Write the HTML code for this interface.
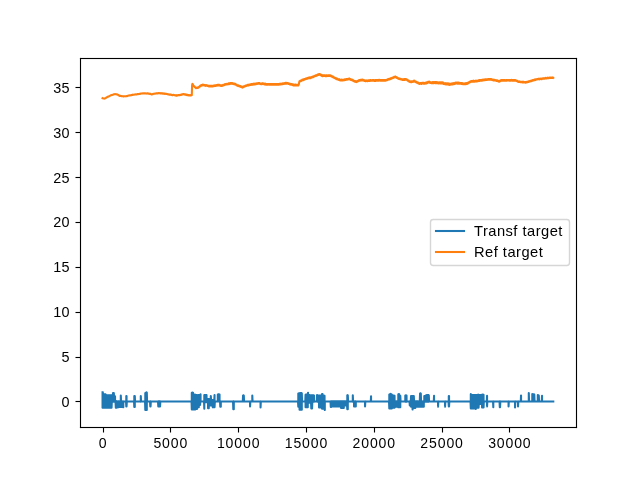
<!DOCTYPE html>
<html lang="en">
<head>
<meta charset="utf-8">
<title>Transf target vs Ref target</title>
<style>
html,body{margin:0;padding:0;background:#fff;}
body{width:640px;height:480px;overflow:hidden;font-family:"Liberation Sans",sans-serif;}
svg{display:block;will-change:transform;}
text{font-family:"Liberation Sans",sans-serif;fill:#000;}
.yt text{font-size:14px;letter-spacing:.3px;text-anchor:end;}
.xt text{font-size:14.5px;letter-spacing:.9px;text-anchor:middle;}
.lg text{font-size:14px;letter-spacing:.45px;}
.sp{stroke:#000;stroke-width:1.111;fill:none;}
.ln{fill:none;stroke-width:2.083;stroke-linejoin:round;stroke-linecap:square;}
</style>
</head>
<body>
<svg width="640" height="480" viewBox="0 0 640 480">
<rect width="640" height="480" fill="#fff"/>
<g class="ln">
<polyline stroke="#1f77b4" points="102.55,392.35 102.55,407.8 102.8,407.8 102.8,392.35 103.05,394.5 103.05,407.8 103.3,407.8 103.3,394.5 103.55,394.5 103.55,407.8 103.8,407.8 103.8,394.5 104.05,394.5 104.05,407.8 104.3,407.8 104.3,394.5 104.55,394.5 104.55,407.8 104.8,407.8 104.8,394.5 105.05,394.5 105.05,407.8 105.3,407.8 105.3,394.5 105.55,394.5 105.55,407.8 105.8,407.8 105.8,394.5 106.05,395.44 106.05,407.8 106.3,407.8 106.3,395.44 106.55,395.44 106.55,407.8 106.8,407.8 106.8,395.44 107.05,395.44 107.05,407.8 107.3,407.8 107.3,395.44 107.55,395.44 107.55,407.8 107.8,407.8 107.8,395.44 108.05,395.44 108.05,407.8 108.3,407.8 108.3,395.44 108.55,395.44 108.55,407.8 108.8,407.8 108.8,395.44 109.05,395.44 109.05,407.8 109.3,407.8 109.3,395.44 109.55,395.44 109.55,407.8 109.8,407.8 109.8,395.44 110.05,395.44 110.05,407.8 110.3,407.8 110.3,395.44 110.55,395.44 110.55,407.8 110.8,407.8 110.8,395.44 111.05,395.44 111.05,407.8 111.3,407.8 111.3,395.44 111.55,395.44 111.55,407.8 111.8,401.61 111.8,395.44 112.05,395.44 112.05,401.61 112.3,401.61 112.3,395.44 112.55,395.44 112.55,401.61 112.8,401.61 112.8,395.44 113.05,393.1 113.05,401.61 113.3,401.61 113.3,393.1 113.55,393.1 113.55,401.61 113.8,401.61 113.8,393.1 114.05,396.38 114.05,401.61 114.3,401.61 114.3,396.38 114.55,396.38 114.55,401.61 114.8,401.61 114.8,396.38 115.05,396.38 115.05,401.61 115.3,401.61 115.3,401.25 115.55,401.25 115.55,401.61 115.8,407.8 115.8,401.25 116.05,401.25 116.05,407.8 116.3,407.8 116.3,401.25 116.55,401.25 116.55,407.8 116.8,407.8 116.8,401.25 117.05,401.43 117.05,407.23 117.3,407.23 117.3,401.43 117.55,401.43 117.55,407.23 117.8,407.23 117.8,401.43 118.05,401.43 118.05,407.23 118.3,407.23 118.3,401.43 118.55,401.43 118.55,407.23 118.8,407.05 118.8,401.43 119.05,401.43 119.05,407.05 119.3,407.05 119.3,401.43 119.55,401.43 119.55,407.05 119.8,407.05 119.8,401.43 120.05,401.43 120.05,407.05 120.3,407.05 120.3,401.43 120.55,401.43 120.55,407.05 120.8,407.05 120.8,395.53 121.05,401.43 121.05,407.05 121.3,407.05 121.3,401.43 121.55,401.43 121.55,407.05 121.8,407.05 121.8,401.43 122.05,401.43 122.05,407.05 122.3,407.05 122.3,401.43 122.55,401.43 122.55,407.05 122.8,407.05 122.8,401.43 123.05,401.43 123.05,407.23 123.3,407.23 123.3,401.43 126.05,401.43 126.3,406.48 126.3,396.1 126.55,396.1 126.55,406.48 126.8,401.43 134.05,401.43 134.3,406.95 134.3,396.1 134.55,396.1 134.55,406.95 134.8,406.95 134.8,396.1 135.05,401.43 140.55,401.43 140.8,401.61 140.8,396.1 141.05,401.43 145.05,401.43 145.3,410.05 145.3,393 145.55,393 145.55,410.05 145.8,410.05 145.8,393 146.05,392.63 146.05,410.05 146.3,410.05 146.3,392.63 146.55,392.63 146.55,410.05 146.8,410.05 146.8,392.63 147.05,401.43 150.05,401.43 150.3,406.39 150.3,401.43 150.55,401.43 150.55,406.39 150.8,401.43 158.05,401.43 158.3,406.39 158.3,401.43 158.55,401.43 158.55,406.39 158.8,406.39 158.8,401.43 159.05,401.43 159.05,406.39 159.3,406.39 159.3,401.43 159.55,401.43 159.55,406.39 159.8,406.39 159.8,401.43 160.05,401.43 160.05,406.39 160.3,401.43 191.55,401.43 191.8,409.48 191.8,392.72 192.05,392.72 192.05,409.48 192.3,409.48 192.3,392.72 192.55,392.72 192.55,409.48 192.8,409.48 192.8,392.72 193.05,392.72 193.05,409.48 193.3,409.48 193.3,394.69 193.55,394.69 193.55,409.48 193.8,409.48 193.8,394.69 194.05,394.69 194.05,409.48 194.3,409.48 194.3,394.69 194.55,394.69 194.55,409.48 194.8,409.48 194.8,394.69 195.05,394.69 195.05,409.48 195.3,409.48 195.3,394.69 195.55,394.97 195.55,408.92 195.8,408.92 195.8,394.97 196.05,394.97 196.05,408.92 196.3,408.92 196.3,394.97 196.55,394.97 196.55,408.92 196.8,408.92 196.8,394.97 197.05,394.97 197.05,408.92 197.3,407.23 197.3,395.25 197.55,395.25 197.55,407.23 197.8,407.23 197.8,395.25 198.05,395.25 198.05,407.23 198.3,407.23 198.3,395.25 198.55,395.25 198.55,407.23 198.8,407.23 198.8,395.25 199.05,395.25 199.05,404.98 199.3,404.98 199.3,395.25 199.55,395.25 199.55,404.98 199.8,404.98 199.8,395.25 200.05,395.25 200.05,404.98 200.3,401.43 200.55,394.41 200.55,401.43 204.05,401.43 204.3,408.64 204.3,395.16 204.55,395.16 204.55,402.17 204.8,402.17 204.8,395.16 205.05,395.16 205.05,402.17 205.3,402.17 205.3,395.16 205.55,395.16 205.55,402.17 205.8,402.17 205.8,395.16 206.05,395.16 206.05,402.17 206.3,402.17 206.3,395.16 206.55,395.16 206.55,402.17 206.8,402.17 206.8,399.19 207.05,399.19 207.05,402.17 207.3,402.17 207.3,399.19 207.55,399.19 207.55,402.17 207.8,402.17 207.8,399.19 208.05,399.19 208.05,408.17 208.3,408.17 208.3,399.19 208.55,399.19 208.55,408.17 208.8,408.17 208.8,399.19 209.05,399.19 209.05,405.55 209.3,405.55 209.3,399.19 209.55,399.19 209.55,405.55 209.8,405.55 209.8,399.19 210.05,399.19 210.05,405.55 210.3,405.55 210.3,399.19 210.55,399.19 210.55,405.55 210.8,405.55 210.8,396.1 211.05,400.31 211.05,405.55 211.3,405.55 211.3,400.31 211.55,400.31 211.55,405.55 211.8,405.55 211.8,400.31 212.05,400.31 212.05,405.55 212.3,405.55 212.3,400.31 212.55,400.31 212.55,405.55 212.8,407.23 212.8,400.31 213.05,400.31 213.05,407.23 213.3,407.23 213.3,400.31 213.55,400.31 213.55,407.23 213.8,407.23 213.8,400.31 214.05,400.31 214.05,407.23 214.3,407.23 214.3,400.31 214.55,394.97 214.55,407.23 214.8,401.61 214.8,401.43 215.05,401.43 215.05,401.61 215.3,401.61 215.3,401.43 215.55,401.43 215.55,401.61 215.8,401.43 217.8,401.43 217.8,394.5 218.05,394.5 218.05,401.43 218.3,401.43 218.3,394.5 218.55,394.5 218.55,401.43 218.8,401.43 218.8,394.5 219.05,394.5 219.05,401.43 219.3,401.43 219.3,394.5 219.55,394.5 219.55,401.43 220.05,401.43 220.3,406.67 220.3,401.43 220.55,401.43 220.55,406.67 220.8,406.67 220.8,401.43 233.05,401.43 233.3,409.3 233.3,401.43 233.55,401.43 233.55,409.3 233.8,409.3 233.8,401.43 242.8,401.43 243.05,395.44 243.05,401.43 243.3,401.43 243.3,395.44 243.55,395.44 243.55,401.43 243.8,401.43 243.8,395.44 244.05,401.43 250.05,401.43 250.05,406.48 250.3,401.43 252.3,401.43 252.3,395.44 252.55,401.43 260.55,401.43 260.55,407.42 260.8,401.43 298.05,401.43 298.3,406.67 298.3,393.56 298.55,393.56 298.55,406.67 298.8,406.67 298.8,393.56 299.05,393.56 299.05,406.67 299.3,406.67 299.3,393.56 299.55,393.38 299.55,409.76 299.8,409.76 299.8,393.38 300.05,393.38 300.05,409.76 300.3,409.76 300.3,393.38 300.55,393.38 300.55,409.76 300.8,409.76 300.8,393.38 301.05,393.38 301.05,409.76 301.3,409.76 301.3,393.38 301.55,393.38 301.55,409.76 301.8,409.76 301.8,393.38 302.05,401.43 305.3,401.43 305.55,394.69 305.55,407.23 305.8,407.23 305.8,394.69 306.05,394.69 306.05,407.23 306.3,407.23 306.3,394.69 306.55,394.69 306.55,407.23 306.8,407.23 306.8,394.69 307.05,394.69 307.05,407.23 307.3,407.23 307.3,394.69 307.55,394.69 307.55,407.23 307.8,407.23 307.8,394.69 308.05,392.72 308.05,402.73 308.3,402.73 308.3,394.69 308.55,394.69 308.55,402.73 308.8,402.73 308.8,394.69 309.05,394.69 309.05,402.73 309.3,402.73 309.3,395.53 309.55,395.53 309.55,402.73 309.8,402.73 309.8,395.53 310.05,395.53 310.05,402.73 310.3,402.73 310.3,395.53 310.55,395.53 310.55,402.73 310.8,402.73 310.8,395.53 311.05,395.53 311.05,402.73 311.3,408.36 311.3,395.53 311.55,395.53 311.55,408.36 311.8,408.36 311.8,395.53 312.05,395.53 312.05,408.36 312.3,401.61 312.3,395.53 312.55,395.53 312.55,401.61 312.8,401.61 312.8,395.53 313.05,395.53 313.05,401.61 313.3,401.61 313.3,395.53 313.55,395.53 313.55,401.61 313.8,401.61 313.8,395.53 314.05,395.53 314.05,401.61 314.3,401.43 316.8,401.43 317.05,394.97 317.05,401.43 317.3,401.61 317.3,395.81 317.55,395.81 317.55,401.61 317.8,401.61 317.8,395.81 318.05,395.81 318.05,401.61 318.3,401.61 318.3,395.81 318.55,395.81 318.55,401.61 318.8,401.61 318.8,395.81 319.05,395.81 319.05,407.51 319.3,407.51 319.3,395.81 319.55,395.81 319.55,407.51 319.8,407.51 319.8,395.81 320.05,395.81 320.05,407.51 320.3,407.51 320.3,395.81 320.55,395.81 320.55,407.51 320.8,407.51 320.8,395.81 321.05,395.81 321.05,407.51 321.3,407.51 321.3,395.81 321.55,395.81 321.55,407.51 321.8,407.51 321.8,395.81 322.05,394.13 322.05,408.64 322.3,408.64 322.3,394.13 322.55,394.13 322.55,408.64 322.8,408.64 322.8,395.81 323.05,395.81 323.05,408.64 323.3,408.64 323.3,395.81 323.55,395.81 323.55,408.64 323.8,408.64 323.8,395.81 324.05,395.81 324.05,408.64 324.3,408.64 324.3,395.81 324.55,395.81 324.55,408.64 324.8,410.05 324.8,401.43 330.55,401.43 330.8,406.95 330.8,401.43 331.05,401.43 331.05,406.95 331.3,406.48 331.3,401.43 331.55,401.43 331.55,406.48 331.8,406.48 331.8,401.43 332.05,401.43 332.05,406.48 332.3,406.48 332.3,401.43 332.55,401.43 332.55,406.48 332.8,406.48 332.8,401.43 333.05,401.43 333.05,406.48 333.3,406.48 333.3,401.43 333.55,401.43 333.55,406.48 333.8,406.48 333.8,401.43 334.05,401.43 334.05,406.48 334.3,406.48 334.3,401.43 334.55,401.43 334.55,406.48 334.8,406.48 334.8,401.43 335.05,401.43 335.05,406.48 335.3,406.48 335.3,401.43 335.55,401.43 335.55,406.48 335.8,406.48 335.8,401.43 336.05,401.43 336.05,406.48 336.3,406.48 336.3,401.43 336.55,401.43 336.55,406.48 336.8,406.48 336.8,401.43 337.05,401.43 337.05,406.48 337.3,406.48 337.3,401.43 337.55,401.43 337.55,406.48 337.8,406.48 337.8,401.43 338.05,401.43 338.05,406.48 338.3,406.48 338.3,401.43 338.55,401.43 338.55,406.48 338.8,406.48 338.8,401.43 339.05,401.43 339.05,406.48 339.3,406.48 339.3,401.43 339.55,401.43 339.55,406.48 339.8,406.48 339.8,401.43 340.05,401.43 340.05,406.48 340.3,406.48 340.3,401.43 340.55,401.43 340.55,406.48 340.8,406.48 340.8,401.43 341.05,401.43 341.05,407.98 341.3,407.98 341.3,401.43 341.55,401.43 341.55,407.98 341.8,407.98 341.8,401.43 342.05,401.43 342.05,407.98 342.3,407.98 342.3,401.43 342.55,401.43 342.55,407.98 342.8,407.98 342.8,401.43 343.05,401.43 343.05,407.98 343.3,407.98 343.3,401.43 343.55,401.43 343.55,407.98 343.8,407.98 343.8,401.43 344.05,401.43 344.05,405.55 344.3,405.55 344.3,401.43 344.55,401.43 344.55,405.55 344.8,405.55 344.8,401.43 345.05,401.43 345.05,405.55 345.3,405.55 345.3,401.43 345.55,401.43 345.55,405.55 345.8,405.55 345.8,401.43 346.05,401.43 346.05,405.55 346.3,405.55 346.3,401.43 346.55,401.43 346.55,405.55 346.8,405.55 346.8,401.43 347.05,401.43 347.05,405.55 347.3,409.2 347.3,395.25 347.55,395.25 347.55,409.2 347.8,409.2 347.8,395.25 348.05,401.43 352.55,401.43 352.8,401.61 352.8,395.25 353.05,401.43 353.05,401.61 353.3,401.61 353.3,401.43 353.55,401.43 353.55,401.61 353.8,401.61 353.8,401.43 354.05,401.43 354.05,406.39 354.3,406.39 354.3,401.43 354.55,401.43 354.55,406.39 354.8,406.39 354.8,401.43 355.05,401.43 355.05,406.39 355.3,406.39 355.3,401.43 355.55,401.43 355.55,406.39 355.8,406.39 355.8,401.43 365.05,401.43 365.05,406.48 365.3,401.43 370.8,401.43 371.05,396.19 371.05,401.43 389.05,401.43 389.3,408.55 389.3,394.5 389.55,394.5 389.55,408.55 389.8,408.55 389.8,394.5 390.05,394.5 390.05,408.55 390.3,408.55 390.3,394.5 390.55,393.85 390.55,408.55 390.8,408.55 390.8,394.5 391.05,394.5 391.05,408.55 391.3,408.55 391.3,394.5 391.55,394.5 391.55,408.55 391.8,408.55 391.8,394.5 392.05,395.81 392.05,407.8 392.3,407.8 392.3,395.81 392.55,395.81 392.55,407.8 392.8,407.8 392.8,395.81 393.05,395.81 393.05,407.8 393.3,407.8 393.3,395.81 393.55,395.81 393.55,407.8 393.8,407.8 393.8,395.81 394.05,395.81 394.05,407.8 394.3,407.8 394.3,395.81 394.55,395.81 394.55,407.8 394.8,406.67 394.8,401.43 395.05,401.43 395.05,406.67 395.3,406.67 395.3,401.43 395.55,401.43 395.55,406.67 395.8,406.67 395.8,401.43 396.05,401.43 396.05,406.67 396.3,406.67 396.3,401.43 396.55,401.43 396.55,406.67 396.8,406.67 396.8,401.43 397.05,401.43 397.05,406.67 397.3,406.67 397.3,401.43 397.55,401.43 397.55,406.67 397.8,406.67 397.8,401.43 398.05,401.43 398.05,406.67 398.3,407.23 398.3,394.41 398.55,394.41 398.55,407.23 398.8,407.23 398.8,394.41 399.05,394.41 399.05,407.23 399.3,407.23 399.3,394.41 399.55,395.81 399.55,407.23 399.8,407.23 399.8,395.81 400.05,395.81 400.05,407.23 400.3,407.23 400.3,395.81 400.55,401.43 405.05,401.43 405.3,401.61 405.3,395.53 405.55,395.53 405.55,401.61 405.8,401.61 405.8,395.53 406.05,395.53 406.05,401.61 406.3,401.61 406.3,395.53 406.55,395.53 406.55,401.61 406.8,401.43 409.55,401.43 409.8,405.55 409.8,401.43 410.05,401.43 410.05,405.55 410.3,405.55 410.3,401.43 410.55,401.43 410.55,405.55 410.8,405.55 410.8,401.43 411.05,396.1 411.05,406.67 411.3,406.67 411.3,396.1 411.55,396.1 411.55,406.67 411.8,406.67 411.8,396.1 412.05,396.1 412.05,406.67 412.3,406.67 412.3,396.1 412.55,396.1 412.55,409.48 412.8,408.08 412.8,396.1 413.05,396.1 413.05,408.08 413.3,408.08 413.3,396.1 413.55,396.1 413.55,408.08 413.8,408.08 413.8,396.1 414.05,401.43 414.05,408.08 414.3,408.08 414.3,401.43 414.55,401.43 414.55,408.08 414.8,408.08 414.8,401.43 415.05,401.43 415.05,408.08 415.3,408.08 415.3,401.43 415.55,401.43 415.55,406.67 415.8,406.67 415.8,401.43 416.05,401.43 416.05,406.67 416.3,406.67 416.3,401.43 416.55,401.43 416.55,406.67 416.8,406.67 416.8,401.43 417.05,401.43 417.05,406.67 417.3,406.67 417.3,401.43 417.55,401.43 417.55,406.67 417.8,406.67 417.8,401.43 418.05,401.43 418.05,406.67 418.3,406.67 418.3,401.43 418.55,401.43 418.55,406.67 418.8,406.67 418.8,401.43 419.05,401.43 419.05,406.67 419.3,406.67 419.3,401.43 419.55,401.43 419.55,406.67 419.8,406.67 419.8,401.43 420.05,393.56 420.05,406.67 420.3,406.67 420.3,393.56 420.55,393.56 420.55,406.67 420.8,406.67 420.8,393.56 421.05,401.43 421.05,406.67 421.3,406.67 421.3,401.43 421.55,401.43 421.55,406.67 421.8,406.67 421.8,401.43 422.05,401.43 422.05,406.67 422.3,406.67 422.3,401.43 422.55,401.43 422.55,406.67 422.8,406.67 422.8,401.43 423.05,401.43 423.05,406.67 423.3,406.67 423.3,401.43 423.55,401.43 423.55,406.67 423.8,406.67 423.8,401.43 424.05,401.43 424.05,401.61 424.3,401.61 424.3,396.1 424.55,396.1 424.55,401.61 424.8,401.61 424.8,396.1 425.05,396.1 425.05,401.61 425.3,401.61 425.3,396.1 425.55,396.1 425.55,401.61 425.8,401.61 425.8,396.1 426.05,395.25 426.05,401.61 426.3,401.61 426.3,395.25 426.55,395.25 426.55,401.61 426.8,401.61 426.8,395.25 427.05,395.25 427.05,401.61 427.3,401.61 427.3,395.25 427.55,395.25 427.55,401.61 427.8,401.61 427.8,395.25 428.05,395.25 428.05,401.61 428.3,401.61 428.3,395.25 428.55,395.25 428.55,401.61 428.8,401.61 428.8,395.25 429.05,401.43 433.8,401.43 434.05,395.81 434.05,401.43 438.05,401.43 438.05,406.67 438.3,401.43 445.05,401.43 445.05,406.67 445.3,401.43 448.55,401.43 448.8,406.39 448.8,396.1 449.05,396.1 449.05,406.39 449.3,401.43 470.55,401.43 470.8,408.36 470.8,394.13 471.05,395.06 471.05,408.36 471.3,408.36 471.3,395.06 471.55,395.06 471.55,408.36 471.8,408.36 471.8,395.06 472.05,395.06 472.05,408.36 472.3,408.36 472.3,395.06 472.55,395.06 472.55,408.36 472.8,408.36 472.8,395.06 473.05,395.06 473.05,408.55 473.3,408.55 473.3,395.06 473.55,395.06 473.55,408.55 473.8,408.55 473.8,395.06 474.05,395.06 474.05,408.55 474.3,408.55 474.3,395.06 474.55,395.06 474.55,408.55 474.8,408.55 474.8,395.06 475.05,395.06 475.05,408.55 475.3,408.55 475.3,395.06 475.55,395.06 475.55,408.55 475.8,408.92 475.8,395.06 476.05,395.06 476.05,407.8 476.3,407.8 476.3,395.06 476.55,395.06 476.55,407.8 476.8,407.8 476.8,395.06 477.05,395.06 477.05,407.8 477.3,407.8 477.3,395.06 477.55,395.06 477.55,407.8 477.8,407.8 477.8,394.69 478.05,394.69 478.05,407.8 478.3,407.8 478.3,394.69 478.55,394.69 478.55,407.8 478.8,403.86 478.8,394.97 479.05,394.97 479.05,403.86 479.3,403.86 479.3,394.97 479.55,394.97 479.55,403.86 479.8,403.86 479.8,394.97 480.05,394.97 480.05,403.86 480.3,403.86 480.3,394.97 480.55,394.97 480.55,403.86 480.8,403.86 480.8,394.97 481.05,394.97 481.05,403.86 481.3,403.86 481.3,394.97 481.55,394.97 481.55,403.86 481.8,403.86 481.8,394.97 482.05,394.69 482.05,407.51 482.3,407.51 482.3,394.69 482.55,394.69 482.55,407.51 482.8,407.51 482.8,394.69 483.05,394.69 483.05,407.51 483.3,407.51 483.3,394.69 483.55,394.69 483.55,407.51 483.8,401.43 486.8,401.43 487.05,395.81 487.05,406.39 487.3,401.43 493.05,401.43 493.3,407.23 493.3,401.43 499.55,401.43 499.8,407.23 499.8,401.43 500.05,401.43 500.05,407.23 500.3,401.43 508.55,401.43 508.55,406.48 508.8,401.43 515.04,401.43 515.04,407.42 515.29,401.43 518.04,401.43 518.04,406.48 518.29,401.43 520.79,401.43 521.04,395.44 521.04,401.43 528.79,401.43 528.79,393.1 529.04,401.43 532.29,401.43 532.29,393.94 532.54,394.5 532.54,401.43 532.79,401.43 532.79,394.5 533.04,394.5 533.04,401.43 533.29,401.43 533.29,394.5 533.54,394.5 533.54,401.43 533.79,401.43 533.79,394.5 534.04,394.5 534.04,401.43 534.29,401.43 534.29,394.5 534.54,401.43 537.79,401.43 537.79,394.97 538.04,401.43 538.29,401.43 538.29,395.44 538.54,395.44 538.54,401.43 538.79,401.43 538.79,395.44 539.04,401.43 541.79,401.43 542.04,395.91 542.04,401.43 553.29,401.43"/>
<polyline stroke="#ff7f0e" points="102.55,98.21 102.8,98.32 103.05,98.34 103.3,98.45 103.55,98.44 103.8,98.55 104.05,98.5 104.3,98.62 104.55,98.57 104.8,98.5 105.05,98.25 105.3,98.17 105.55,97.97 105.8,97.9 106.05,97.73 106.3,97.66 106.55,97.46 106.8,97.38 107.05,97.13 107.3,97.07 107.55,96.86 107.8,96.81 108.05,96.7 108.3,96.64 108.55,96.45 108.8,96.39 109.05,96.3 109.3,96.25 109.55,96.05 109.8,96 110.05,95.65 110.3,95.6 110.55,95.41 110.8,95.39 111.05,95.22 111.3,95.2 111.55,95.04 111.8,95.02 112.05,94.94 112.3,94.93 112.55,94.76 112.8,94.75 113.05,94.58 113.3,94.55 113.55,94.4 113.8,94.37 114.05,94.2 114.3,94.2 114.55,94.15 114.8,94.24 115.05,94.1 115.3,94.21 115.55,94.14 115.8,94.25 116.05,94.26 116.3,94.36 116.55,94.3 116.8,94.4 117.05,94.4 117.3,94.53 117.55,94.61 117.8,94.86 118.05,94.78 118.3,95.03 118.55,95.11 118.8,95.36 119.05,95.52 119.3,95.77 119.55,95.83 119.8,95.96 120.05,95.8 120.3,95.92 120.55,95.88 120.8,96.01 121.05,96.02 121.3,96.14 121.55,96.1 121.8,96.22 122.05,96.14 122.3,96.25 122.55,96.22 122.8,96.28 123.05,96.32 123.3,96.39 123.55,96.3 123.8,96.37 124.05,96.2 124.3,96.27 124.55,96.18 124.8,96.25 125.05,96.28 125.3,96.35 125.55,96.26 125.8,96.33 126.05,96.22 126.3,96.31 126.55,96.14 126.8,96.19 127.05,96 127.3,96.03 127.55,95.88 127.8,95.91 128.05,95.57 128.3,95.6 128.55,95.45 128.8,95.48 129.05,95.49 129.3,95.52 129.55,95.37 129.8,95.4 130.05,95.29 130.3,95.35 130.55,95.21 130.8,95.27 131.05,95.14 131.3,95.21 131.55,95.06 131.8,95.13 132.05,94.84 132.3,94.92 132.55,94.76 132.8,94.84 133.05,94.78 133.3,94.83 133.55,94.7 133.8,94.75 134.05,94.58 134.3,94.64 134.55,94.51 134.8,94.56 135.05,94.44 135.3,94.52 135.55,94.36 135.8,94.44 136.05,94.45 136.3,94.51 136.55,94.38 136.8,94.44 137.05,94.15 137.3,94.22 137.55,94.07 137.8,94.14 138.05,94.06 138.3,94.1 138.55,93.97 138.8,94.01 139.05,93.94 139.3,94.01 139.55,93.85 139.8,93.92 140.05,93.65 140.3,93.7 140.55,93.56 140.8,93.62 141.05,93.51 141.3,93.57 141.55,93.42 141.8,93.48 142.05,93.36 142.3,93.45 142.55,93.36 142.8,93.45 143.05,93.35 143.3,93.46 143.55,93.35 143.8,93.46 144.05,93.24 144.3,93.37 144.55,93.24 144.8,93.37 145.05,93.34 145.3,93.47 145.55,93.34 145.8,93.47 146.05,93.45 146.3,93.56 146.55,93.45 146.8,93.56 147.05,93.21 147.3,93.34 147.55,93.21 147.8,93.34 148.05,93.42 148.3,93.59 148.55,93.54 148.8,93.71 149.05,93.59 149.3,93.76 149.55,93.71 149.8,93.87 150.05,93.75 150.3,93.93 150.55,93.87 150.8,94.04 151.05,94.2 151.3,94.36 151.55,94.31 151.8,94.45 152.05,94.2 152.3,94.26 152.55,94.1 152.8,94.16 153.05,93.83 153.3,93.91 153.55,93.73 153.8,93.81 154.05,93.73 154.3,93.82 154.55,93.63 154.8,93.72 155.05,93.59 155.3,93.64 155.55,93.49 155.8,93.57 156.05,93.36 156.3,93.47 156.55,93.3 156.8,93.42 157.05,93.31 157.3,93.44 157.55,93.26 157.8,93.38 158.05,93.16 158.3,93.26 158.55,93.11 158.8,93.21 159.05,93.12 159.3,93.21 159.55,93.13 159.8,93.27 160.05,93.23 160.3,93.4 160.55,93.28 160.8,93.45 161.05,93.18 161.3,93.33 161.55,93.23 161.8,93.38 162.05,93.34 162.3,93.52 162.55,93.39 162.8,93.57 163.05,93.4 163.3,93.57 163.55,93.47 163.8,93.64 164.05,93.57 164.3,93.76 164.55,93.64 164.8,93.83 165.05,93.61 165.3,93.78 165.55,93.68 165.8,93.84 166.05,93.79 166.3,93.97 166.55,93.85 166.8,94.03 167.05,93.95 167.3,94.13 167.55,94.02 167.8,94.22 168.05,94.2 168.3,94.41 168.55,94.3 168.8,94.51 169.05,94.43 169.3,94.62 169.55,94.53 169.8,94.72 170.05,94.41 170.3,94.65 170.55,94.51 170.8,94.75 171.05,94.67 171.3,94.87 171.55,94.77 171.8,94.97 172.05,94.98 172.3,95.15 172.55,95.03 172.8,95.2 173.05,94.86 173.3,95.03 173.55,94.91 173.8,95.07 174.05,95.08 174.3,95.23 174.55,95.12 174.8,95.28 175.05,95.18 175.3,95.37 175.55,95.23 175.8,95.41 176.05,95.37 176.3,95.58 176.55,95.4 176.8,95.56 177.05,95.3 177.3,95.46 177.55,95.25 177.8,95.41 178.05,95.14 178.3,95.26 178.55,95.08 178.8,95.2 179.05,95.03 179.3,95.14 179.55,94.97 179.8,95.09 180.05,94.92 180.3,95.05 180.55,94.81 180.8,94.9 181.05,94.78 181.3,94.91 181.55,94.63 181.8,94.76 182.05,94.34 182.3,94.44 182.55,94.19 182.8,94.29 183.05,94.03 183.3,94.19 183.55,94.04 183.8,94.31 184.05,94.22 184.3,94.48 184.55,94.34 184.8,94.6 185.05,94.42 185.3,94.68 185.55,94.54 185.8,94.8 186.05,94.65 186.3,94.92 186.55,94.77 186.8,95.04 187.05,94.81 187.3,95.06 187.55,94.88 187.8,95.12 188.05,95.05 188.3,95.26 188.55,95.12 188.8,95.33 189.05,95.15 189.3,95.36 189.55,95.22 189.8,95.42 190.05,95.39 190.3,95.54 190.55,95.31 190.8,95.46 191.05,95.17 191.3,95.35 191.55,95.08 191.8,95.26 192.05,86.01 192.3,84.15 192.55,83.97 192.8,84.57 193.05,84.79 193.3,85.46 193.55,85.59 193.8,86.23 194.05,86.07 194.3,86.62 194.55,86.52 194.8,87.06 195.05,87.1 195.3,87.6 195.55,87.54 195.8,88.04 196.05,87.84 196.3,88.09 196.55,87.74 196.8,87.99 197.05,87.67 197.3,87.95 197.55,87.57 197.8,87.85 198.05,87.3 198.3,87.62 198.55,87.17 198.8,87.31 199.05,86.75 199.3,87.05 199.55,86.29 199.8,86.59 200.05,85.77 200.3,86.04 200.55,85.58 200.8,85.86 201.05,85.35 201.3,85.66 201.55,85.17 201.8,85.48 202.05,85.13 202.3,85.43 202.55,84.94 202.8,85.25 203.05,84.7 203.3,85.2 203.55,84.77 203.8,85.27 204.05,84.97 204.3,85.37 204.55,85.03 204.8,85.44 205.05,85.22 205.3,85.72 205.55,85.28 205.8,85.79 206.05,85.14 206.3,85.6 206.55,85.26 206.8,85.72 207.05,85.38 207.3,85.87 207.55,85.5 207.8,85.98 208.05,85.62 208.3,86.23 208.55,85.74 208.8,86.34 209.05,85.93 209.3,86.35 209.55,85.93 209.8,86.35 210.05,85.83 210.3,86.34 210.55,85.83 210.8,86.34 211.05,85.85 211.3,86.32 211.55,85.85 211.8,86.32 212.05,85.91 212.3,86.36 212.55,85.86 212.8,86.3 213.05,85.74 213.3,86.27 213.55,85.68 213.8,86.21 214.05,85.57 214.3,85.96 214.55,85.51 214.8,85.9 215.05,85.44 215.3,85.98 215.55,85.34 215.8,85.88 216.05,85.25 216.3,85.79 216.55,85.15 216.8,85.69 217.05,84.99 217.3,85.48 217.55,84.89 217.8,85.38 218.05,84.96 218.3,85.31 218.55,84.86 218.8,85.23 219.05,84.73 219.3,85.34 219.55,84.86 219.8,85.46 220.05,85.14 220.3,85.73 220.55,85.26 220.8,85.85 221.05,85.3 221.3,85.94 221.55,85.43 221.8,86.03 222.05,85.42 222.3,85.77 222.55,85.23 222.8,85.58 223.05,84.9 223.3,85.42 223.55,84.7 223.8,85.23 224.05,84.56 224.3,85.07 224.55,84.37 224.8,84.89 225.05,84.17 225.3,84.55 225.55,84.08 225.8,84.46 226.05,84.03 226.3,84.46 226.55,83.94 226.8,84.36 227.05,84 227.3,84.36 227.55,83.9 227.8,84.26 228.05,83.51 228.3,84.07 228.55,83.42 228.8,83.98 229.05,83.56 229.3,84.13 229.55,83.46 229.8,84.04 230.05,83.15 230.3,83.75 230.55,83.06 230.8,83.66 231.05,83.22 231.3,83.73 231.55,83.14 231.8,83.74 232.05,83.1 232.3,83.71 232.55,83.19 232.8,83.81 233.05,83.41 233.3,84.03 233.55,83.5 233.8,84.12 234.05,83.55 234.3,84.15 234.55,83.66 234.8,84.33 235.05,83.73 235.3,84.5 235.55,83.98 235.8,84.75 236.05,84.49 236.3,85.18 236.55,84.74 236.8,85.43 237.05,85.04 237.3,85.66 237.55,85.28 237.8,85.87 238.05,85.32 238.3,85.96 238.55,85.51 238.8,86.14 239.05,85.73 239.3,86.25 239.55,85.92 239.8,86.43 240.05,86.02 240.3,86.71 240.55,86.2 240.8,86.9 241.05,86.34 241.3,87.03 241.55,86.54 241.8,87.23 242.05,86.93 242.3,87.56 242.55,87.01 242.8,87.43 243.05,86.6 243.3,87.13 243.55,86.38 243.8,86.91 244.05,86.21 244.3,86.72 244.55,85.99 244.8,86.5 245.05,85.76 245.3,86.2 245.55,85.6 245.8,86.03 246.05,85.48 246.3,85.84 246.55,85.31 246.8,85.68 247.05,85.08 247.3,85.47 247.55,84.92 247.8,85.3 248.05,84.95 248.3,85.39 248.55,84.86 248.8,85.29 249.05,84.64 249.3,85.1 249.55,84.54 249.8,85.01 250.05,84.52 250.3,85.02 250.55,84.43 250.8,84.93 251.05,84.19 251.3,84.83 251.55,84.1 251.8,84.74 252.05,84.06 252.3,84.54 252.55,84 252.8,84.49 253.05,83.9 253.3,84.55 253.55,83.84 253.8,84.49 254.05,83.8 254.3,84.39 254.55,83.75 254.8,84.34 255.05,83.71 255.3,84.36 255.55,83.66 255.8,84.28 256.05,83.59 256.3,84.09 256.55,83.49 256.8,83.99 257.05,83.44 257.3,83.84 257.55,83.34 257.8,83.74 258.05,83.05 258.3,83.66 258.55,82.95 258.8,83.56 259.05,82.97 259.3,83.46 259.55,83.03 259.8,83.62 260.05,83.4 260.3,83.97 260.55,83.57 260.8,84.14 261.05,83.46 261.3,84.21 261.55,83.6 261.8,84.2 262.05,83.45 262.3,84.02 262.55,83.32 262.8,83.89 263.05,83.39 263.3,83.96 263.55,83.52 263.8,84.09 264.05,83.73 264.3,84.32 264.55,83.86 264.8,84.45 265.05,83.68 265.3,84.45 265.55,83.81 265.8,84.58 266.05,84.12 266.3,84.64 266.55,84.12 266.8,84.64 267.05,84.03 267.3,84.67 267.55,84.03 267.8,84.67 268.05,84.02 268.3,84.5 268.55,84.02 268.8,84.5 269.05,84.12 269.3,84.79 269.55,84.12 269.8,84.79 270.05,84.16 270.3,84.64 270.55,84.16 270.8,84.64 271.05,84.11 271.3,84.7 271.55,84.11 271.8,84.7 272.05,84.11 272.3,84.57 272.55,84.11 272.8,84.57 273.05,84.14 273.3,84.74 273.55,84.14 273.8,84.74 274.05,84.02 274.3,84.7 274.55,84.02 274.8,84.7 275.05,84.15 275.3,84.62 275.55,84.15 275.8,84.62 276.05,84.05 276.3,84.57 276.55,84.05 276.8,84.57 277.05,83.97 277.3,84.63 277.55,83.97 277.8,84.63 278.05,84.19 278.3,84.78 278.55,84.14 278.8,84.73 279.05,83.98 279.3,84.49 279.55,83.93 279.8,84.44 280.05,83.9 280.3,84.49 280.55,83.84 280.8,84.44 281.05,83.79 281.3,84.33 281.55,83.73 281.8,84.27 282.05,83.56 282.3,84.2 282.55,83.46 282.8,84.1 283.05,83.44 283.3,83.91 283.55,83.34 283.8,83.81 284.05,83.26 284.3,83.87 284.55,83.16 284.8,83.77 285.05,83.01 285.3,83.58 285.55,82.92 285.8,83.54 286.05,82.91 286.3,83.56 286.55,82.91 286.8,83.56 287.05,82.98 287.3,83.53 287.55,82.98 287.8,83.54 288.05,83.12 288.3,83.85 288.55,83.29 288.8,84.02 289.05,83.42 289.3,84.14 289.55,83.58 289.8,84.31 290.05,83.77 290.3,84.4 290.55,83.92 290.8,84.55 291.05,84.04 291.3,84.57 291.55,84.19 291.8,84.72 292.05,84.15 292.3,84.93 292.55,84.3 292.8,85.08 293.05,84.66 293.3,85.32 293.55,84.69 293.8,85.35 294.05,84.79 294.3,85.32 294.55,84.83 294.8,85.35 295.05,84.7 295.3,85.37 295.55,84.73 295.8,85.4 296.05,84.88 296.3,85.41 296.55,84.88 296.8,85.41 297.05,84.87 297.3,85.45 297.55,84.87 297.8,85.45 298.05,84.83 298.3,85.51 298.55,84.83 298.8,84.61 299.05,82.83 299.3,82.24 299.55,81.12 299.8,81.58 300.05,80.81 300.3,81.23 300.55,80.59 300.8,81.01 301.05,80.53 301.3,80.95 301.55,80.31 301.8,80.73 302.05,79.9 302.3,80.26 302.55,79.69 302.8,80.06 303.05,79.63 303.3,80.04 303.55,79.43 303.8,79.84 304.05,79.19 304.3,79.61 304.55,78.98 304.8,79.4 305.05,78.82 305.3,79.21 305.55,78.61 305.8,79.01 306.05,78.5 306.3,78.87 306.55,78.31 306.8,78.73 307.05,78.13 307.3,78.67 307.55,78.05 307.8,78.58 308.05,77.78 308.3,78.24 308.55,77.69 308.8,78.15 309.05,77.49 309.3,78.09 309.55,77.4 309.8,78 310.05,77.49 310.3,78.14 310.55,77.4 310.8,78.05 311.05,77.24 311.3,77.66 311.55,77.04 311.8,77.46 312.05,76.88 312.3,77.38 312.55,76.68 312.8,77.18 313.05,76.56 313.3,77.04 313.55,76.36 313.8,76.84 314.05,76.02 314.3,76.39 314.55,75.82 314.8,76.18 315.05,75.56 315.3,75.94 315.55,75.34 315.8,75.72 316.05,75.22 316.3,75.8 316.55,75 316.8,75.58 317.05,74.82 317.3,75.29 317.55,74.6 317.8,75.08 318.05,74.37 318.3,74.97 318.55,74.23 318.8,74.83 319.05,74.22 319.3,74.62 319.55,74.08 319.8,74.66 320.05,74.21 320.3,74.97 320.55,74.52 320.8,75.29 321.05,74.75 321.3,75.59 321.55,75.06 321.8,75.9 322.05,75.39 322.3,76.08 322.55,75.39 322.8,76.08 323.05,75.45 323.3,75.9 323.55,75.45 323.8,75.9 324.05,75.32 324.3,75.91 324.55,75.32 324.8,75.91 325.05,75.52 325.3,76.07 325.55,75.52 325.8,76.07 326.05,75.42 326.3,76.07 326.55,75.42 326.8,76.07 327.05,75.55 327.3,76.02 327.55,75.55 327.8,76.02 328.05,75.41 328.3,75.93 328.55,75.41 328.8,75.93 329.05,75.36 329.3,76.03 329.55,75.36 329.8,76.03 330.05,75.38 330.3,75.96 330.55,75.4 330.8,76.11 331.05,75.67 331.3,76.36 331.55,75.92 331.8,76.61 332.05,76.18 332.3,77.02 332.55,76.43 332.8,77.27 333.05,76.69 333.3,77.35 333.55,76.94 333.8,77.6 334.05,77.32 334.3,77.9 334.55,77.56 334.8,78.15 335.05,77.76 335.3,78.44 335.55,78.01 335.8,78.69 336.05,78.42 336.3,79.04 336.55,78.67 336.8,79.28 337.05,78.65 337.3,79.24 337.55,78.84 337.8,79.39 338.05,79.11 338.3,79.79 338.55,79.27 338.8,79.95 339.05,79.29 339.3,80.07 339.55,79.44 339.8,80.23 340.05,79.65 340.3,80.34 340.55,79.81 340.8,80.49 341.05,79.82 341.3,80.41 341.55,79.76 341.8,80.35 342.05,79.82 342.3,80.33 342.55,79.76 342.8,80.27 343.05,79.77 343.3,80.34 343.55,79.71 343.8,80.29 344.05,79.56 344.3,80.16 344.55,79.45 344.8,80.05 345.05,79.38 345.3,79.93 345.55,79.27 345.8,79.82 346.05,79.1 346.3,79.71 346.55,78.99 346.8,79.6 347.05,79.04 347.3,79.6 347.55,78.96 347.8,79.52 348.05,78.83 348.3,79.3 348.55,78.76 348.8,79.22 349.05,78.45 349.3,79.05 349.55,78.56 349.8,79.29 350.05,78.94 350.3,79.65 350.55,79.19 350.8,79.89 351.05,79.37 351.3,79.99 351.55,79.61 351.8,80.2 352.05,79.63 352.3,80.34 352.55,79.81 352.8,80.52 353.05,80.19 353.3,80.95 353.55,80.37 353.8,81.13 354.05,80.8 354.3,81.37 354.55,80.98 354.8,81.57 355.05,81.03 355.3,81.74 355.55,81.25 355.8,81.95 356.05,81.33 356.3,82.09 356.55,81.4 356.8,81.9 357.05,81.17 357.3,81.59 357.55,80.88 357.8,81.3 358.05,80.78 358.3,81.16 358.55,80.49 358.8,80.87 359.05,80.13 359.3,80.66 359.55,80.08 359.8,80.6 360.05,79.99 360.3,80.56 360.55,79.94 360.8,80.51 361.05,79.86 361.3,80.47 361.55,79.81 361.8,80.42 362.05,79.78 362.3,80.35 362.55,79.72 362.8,80.32 363.05,79.91 363.3,80.47 363.55,80.06 363.8,80.62 364.05,80.1 364.3,80.84 364.55,80.25 364.8,80.99 365.05,80.36 365.3,81.13 365.55,80.51 365.8,81.26 366.05,80.55 366.3,81.01 366.55,80.51 366.8,80.97 367.05,80.58 367.3,81.08 367.55,80.54 367.8,81.04 368.05,80.41 368.3,80.89 368.55,80.37 368.8,80.85 369.05,80.38 369.3,81.04 369.55,80.35 369.8,81.01 370.05,80.13 370.3,80.81 370.55,80.1 370.8,80.79 371.05,80.29 371.3,80.74 371.55,80.27 371.8,80.72 372.05,80.22 372.3,80.75 372.55,80.19 372.8,80.72 373.05,80.09 373.3,80.58 373.55,80.06 373.8,80.55 374.05,80.25 374.3,80.83 374.55,80.25 374.8,80.83 375.05,80.17 375.3,80.87 375.55,80.17 375.8,80.87 376.05,80.13 376.3,80.6 376.55,80.13 376.8,80.6 377.05,80.21 377.3,80.71 377.55,80.21 377.8,80.71 378.05,80.14 378.3,80.72 378.55,80.14 378.8,80.72 379.05,79.9 379.3,80.49 379.55,79.9 379.8,80.49 380.05,80.09 380.3,80.75 380.55,80.09 380.8,80.75 381.05,80.11 381.3,80.68 381.55,80.11 381.8,80.67 382.05,80.15 382.3,80.63 382.55,80.14 382.8,80.62 383.05,80.01 383.3,80.55 383.55,80 383.8,80.54 384.05,79.96 384.3,80.67 384.55,79.95 384.8,80.66 385.05,79.98 385.3,80.63 385.55,79.97 385.8,80.62 386.05,80.13 386.3,80.5 386.55,79.91 386.8,80.27 387.05,79.51 387.3,80.07 387.55,79.29 387.8,79.85 388.05,79.15 388.3,79.61 388.55,79 388.8,79.46 389.05,78.91 389.3,79.5 389.55,78.77 389.8,79.35 390.05,78.56 390.3,78.94 390.55,78.41 390.8,78.79 391.05,78.16 391.3,78.77 391.55,78 391.8,78.57 392.05,77.75 392.3,78.12 392.55,77.51 392.8,77.88 393.05,77.5 393.3,77.95 393.55,77.26 393.8,77.71 394.05,76.94 394.3,77.45 394.55,76.7 394.8,77.21 395.05,76.48 395.3,76.99 395.55,76.56 395.8,77.29 396.05,76.88 396.3,77.53 396.55,77.18 396.8,77.83 397.05,77.44 397.3,78.08 397.55,77.74 397.8,78.38 398.05,78.03 398.3,78.69 398.55,78.24 398.8,78.84 399.05,78.38 399.3,78.92 399.55,78.53 399.8,79.07 400.05,78.66 400.3,79.24 400.55,78.8 400.8,79.38 401.05,78.98 401.3,79.54 401.55,79.13 401.8,79.69 402.05,79.33 402.3,79.92 402.55,79.33 402.8,79.92 403.05,79.26 403.3,79.83 403.55,79.26 403.8,79.83 404.05,79.18 404.3,79.81 404.55,79.18 404.8,79.81 405.05,79.17 405.3,79.73 405.55,79.17 405.8,79.73 406.05,79.2 406.3,79.7 406.55,79.23 406.8,79.89 407.05,79.7 407.3,80.45 407.55,80.03 407.8,80.78 408.05,80.21 408.3,81.1 408.55,80.54 408.8,81.42 409.05,80.86 409.3,81.56 409.55,81.11 409.8,81.81 410.05,81.29 410.3,82.04 410.55,81.54 410.8,82.29 411.05,81.62 411.3,82.27 411.55,81.44 411.8,82.09 412.05,81.39 412.3,81.94 412.55,81.21 412.8,81.76 413.05,81.02 413.3,81.73 413.55,80.84 413.8,81.55 414.05,80.58 414.3,81.52 414.55,80.83 414.8,81.77 415.05,81.18 415.3,81.93 415.55,81.42 415.8,82.18 416.05,81.59 416.3,82.49 416.55,81.84 416.8,82.74 417.05,82.19 417.3,82.95 417.55,82.44 417.8,83.2 418.05,82.57 418.3,83.29 418.55,82.82 418.8,83.54 419.05,83.13 419.3,83.93 419.55,83.2 419.8,83.87 420.05,83.06 420.3,83.8 420.55,83.01 420.8,83.75 421.05,83.04 421.3,83.9 421.55,82.98 421.8,83.84 422.05,82.93 422.3,83.53 422.55,82.87 422.8,83.47 423.05,82.83 423.3,83.66 423.55,82.83 423.8,83.66 424.05,82.95 424.3,83.7 424.55,82.95 424.8,83.7 425.05,82.86 425.3,83.49 425.55,82.86 425.8,83.49 426.05,82.66 426.3,83.49 426.55,82.43 426.8,83.26 427.05,82.31 427.3,83.05 427.55,82.08 427.8,82.82 428.05,81.93 428.3,82.47 428.55,81.73 428.8,82.45 429.05,81.64 429.3,82.65 429.55,81.76 429.8,82.77 430.05,82.15 430.3,82.87 430.55,82.28 430.8,83 431.05,82.53 431.3,83.24 431.55,82.58 431.8,83.24 432.05,82.35 432.3,83.11 432.55,82.35 432.8,83.11 433.05,82.24 433.3,83.23 433.55,82.24 433.8,83.23 434.05,82.34 434.3,82.99 434.55,82.34 434.8,82.99 435.05,82.28 435.3,83.29 435.55,82.3 435.8,83.31 436.05,82.25 436.3,83.15 436.55,82.27 436.8,83.17 437.05,82.4 437.3,83.1 437.55,82.42 437.8,83.12 438.05,82.53 438.3,83.43 438.55,82.55 438.8,83.45 439.05,82.4 439.3,83.25 439.55,82.4 439.8,83.25 440.05,82.53 440.3,83.44 440.55,82.53 440.8,83.44 441.05,82.54 441.3,83.51 441.55,82.54 441.8,83.51 442.05,82.45 442.3,83.39 442.55,82.47 442.8,83.49 443.05,82.6 443.3,83.74 443.55,82.76 443.8,83.91 444.05,83.21 444.3,84.02 444.55,83.38 444.8,84.18 445.05,83.24 445.3,84.3 445.55,83.4 445.8,84.4 446.05,83.49 446.3,84.32 446.55,83.53 446.8,84.36 447.05,83.44 447.3,84.41 447.55,83.47 447.8,84.45 448.05,83.61 448.3,84.62 448.55,83.65 448.8,84.65 449.05,83.78 449.3,84.82 449.55,83.82 449.8,84.86 450.05,83.95 450.3,84.66 450.55,83.89 450.8,84.6 451.05,83.65 451.3,84.43 451.55,83.59 451.8,84.37 452.05,83.45 452.3,84.41 452.55,83.39 452.8,84.35 453.05,83.36 453.3,84.27 453.55,83.22 453.8,84.14 454.05,83.26 454.3,83.96 454.55,83.13 454.8,83.83 455.05,82.85 455.3,83.76 455.55,82.72 455.8,83.62 456.05,82.74 456.3,83.52 456.55,82.77 456.8,83.54 457.05,82.81 457.3,83.57 457.55,82.84 457.8,83.6 458.05,82.75 458.3,83.65 458.55,82.78 458.8,83.67 459.05,82.88 459.3,83.67 459.55,82.91 459.8,83.69 460.05,82.96 460.3,83.74 460.55,82.99 460.8,83.79 461.05,83.05 461.3,83.82 461.55,83.13 461.8,83.9 462.05,83.24 462.3,84.02 462.55,83.31 462.8,84.09 463.05,83.54 463.3,84.22 463.55,83.62 463.8,84.29 464.05,83.59 464.3,84.18 464.55,83.55 464.8,84.13 465.05,83.35 465.3,84.17 465.55,83.3 465.8,84.13 466.05,83.16 466.3,83.91 466.55,83.12 466.8,83.87 467.05,83.21 467.3,83.89 467.55,82.96 467.8,83.64 468.05,82.5 468.3,83.22 468.55,82.25 468.8,82.97 469.05,82.14 469.3,82.66 469.55,81.89 469.8,82.41 470.05,81.81 470.3,82.21 470.55,81.34 470.8,81.79 471.05,81.13 471.3,81.78 471.55,81.13 471.8,81.78 472.05,81.06 472.3,81.72 472.55,81.06 472.8,81.72 473.05,80.86 473.3,81.66 473.55,80.86 473.8,81.66 474.05,81.04 474.3,81.71 474.55,81.03 474.8,81.65 475.05,80.92 475.3,81.53 475.55,80.84 475.8,81.44 476.05,80.8 476.3,81.5 476.55,80.71 476.8,81.42 477.05,80.83 477.3,81.38 477.55,80.74 477.8,81.29 478.05,80.5 478.3,81.03 478.55,80.41 478.8,80.94 479.05,80.16 479.3,80.88 479.55,80.1 479.8,80.82 480.05,80.01 480.3,80.74 480.55,79.95 480.8,80.69 481.05,80.06 481.3,80.65 481.55,80.01 481.8,80.59 482.05,79.89 482.3,80.57 482.55,79.84 482.8,80.52 483.05,79.8 483.3,80.29 483.55,79.74 483.8,80.22 484.05,79.71 484.3,80.29 484.55,79.62 484.8,80.21 485.05,79.42 485.3,80.04 485.55,79.33 485.8,79.96 486.05,79.48 486.3,80.01 486.55,79.4 486.8,79.92 487.05,79.3 487.3,79.85 487.55,79.22 487.8,79.76 488.05,79.11 488.3,79.76 488.55,79.11 488.8,79.76 489.05,78.99 489.3,79.63 489.55,78.99 489.8,79.63 490.05,79.14 490.3,79.65 490.55,79.14 490.8,79.65 491.05,79.02 491.3,79.76 491.55,79.17 491.8,79.91 492.05,79.39 492.3,79.95 492.55,79.54 492.8,80.1 493.05,79.58 493.3,80.37 493.55,79.73 493.8,80.52 494.05,79.9 494.3,80.43 494.55,79.96 494.8,80.49 495.05,80 495.3,80.54 495.55,80.06 495.8,80.6 496.05,80.31 496.3,80.82 496.55,80.37 496.8,80.88 497.05,80.26 497.3,81.03 497.55,80.44 497.8,81.21 498.05,80.74 498.3,81.33 498.55,80.92 498.8,81.5 499.05,81.12 499.3,81.75 499.55,81.06 499.8,81.52 500.05,80.58 500.3,81.13 500.55,80.36 500.8,80.9 501.05,80.22 501.3,80.75 501.55,80.02 501.8,80.66 502.05,80.21 502.3,80.62 502.55,80.21 502.8,80.62 503.05,80.17 503.3,80.69 503.55,80.17 503.8,80.69 504.05,80.1 504.3,80.64 504.55,80.1 504.8,80.64 505.05,80.21 505.3,80.76 505.55,80.21 505.8,80.76 506.05,80.19 506.3,80.64 506.55,80.18 506.8,80.63 507.05,80.06 507.3,80.5 507.55,80.05 507.8,80.5 508.05,80.11 508.3,80.47 508.55,80.1 508.8,80.46 509.05,80.23 509.3,80.59 509.55,80.22 509.8,80.59 510.05,80.13 510.3,80.6 510.55,80.12 510.8,80.59 511.05,79.98 511.3,80.34 511.55,79.97 511.8,80.33 512.04,80.21 512.29,80.6 512.54,80.21 512.79,80.59 513.04,80.13 513.29,80.53 513.54,80.12 513.79,80.53 514.04,80.2 514.29,80.55 514.54,80.2 514.79,80.54 515.04,80.06 515.29,80.39 515.54,80.08 515.79,80.54 516.04,80.25 516.29,80.88 516.54,80.51 516.79,81.14 517.04,80.75 517.29,81.28 517.54,81.01 517.79,81.52 518.04,81.48 518.29,81.88 518.54,81.58 518.79,81.97 519.04,81.41 519.29,81.89 519.54,81.5 519.79,81.99 520.04,81.8 520.29,82.15 520.54,81.9 520.79,82.25 521.04,81.79 521.29,82.18 521.54,81.88 521.79,82.24 522.04,81.91 522.29,82.39 522.54,81.94 522.79,82.42 523.04,81.83 523.29,82.29 523.54,81.85 523.79,82.32 524.04,82.01 524.29,82.43 524.54,82.04 524.79,82.45 525.04,82.22 525.29,82.54 525.54,82.25 525.79,82.57 526.04,82.07 526.29,82.35 526.54,81.94 526.79,82.22 527.04,82.03 527.29,82.25 527.54,81.9 527.79,82.13 528.04,81.7 528.29,81.96 528.54,81.57 528.79,81.83 529.04,81.35 529.29,81.57 529.54,81.23 529.79,81.44 530.04,81.12 530.29,81.34 530.54,80.97 530.79,81.19 531.04,80.78 531.29,81.08 531.54,80.62 531.79,80.93 532.04,80.55 532.29,80.76 532.54,80.39 532.79,80.61 533.04,80.2 533.29,80.42 533.54,80.05 533.79,80.28 534.04,79.84 534.29,80.19 534.54,79.71 534.79,80.06 535.04,79.67 535.29,79.93 535.54,79.54 535.79,79.8 536.04,79.36 536.29,79.61 536.54,79.23 536.79,79.48 537.04,79.1 537.29,79.32 537.54,78.98 537.79,79.19 538.04,78.9 538.29,79.27 538.54,78.87 538.79,79.25 539.04,78.93 539.29,79.28 539.54,78.91 539.79,79.26 540.04,78.7 540.29,79.03 540.54,78.67 540.79,79 541.04,78.76 541.29,79.1 541.54,78.74 541.79,79.07 542.04,78.66 542.29,78.87 542.54,78.56 542.79,78.77 543.04,78.42 543.29,78.66 543.54,78.32 543.79,78.56 544.04,78.34 544.29,78.63 544.54,78.24 544.79,78.53 545.04,78.01 545.29,78.34 545.54,77.91 545.79,78.28 546.04,78.05 546.29,78.4 546.54,78.02 546.79,78.36 547.04,77.82 547.29,78.13 547.54,77.78 547.79,78.1 548.04,77.86 548.29,78.15 548.54,77.82 548.79,78.12 549.04,77.78 549.29,78 549.54,77.74 549.79,77.96 550.04,77.61 550.29,77.95 550.54,77.58 550.79,77.92 551.04,77.71 551.29,77.94 551.54,77.68 551.79,77.91 552.04,77.59 552.29,77.82 552.54,77.56 552.79,77.79 553.04,77.55 553.29,77.86"/>
</g>
<g fill="#000">
<rect x="79.9445" y="57.9445" width="1.111" height="370.111"/>
<rect x="575.9445" y="57.9445" width="1.111" height="370.111"/>
<rect x="79.9445" y="57.9445" width="497.111" height="1.111"/>
<rect x="79.9445" y="426.9445" width="497.111" height="1.111"/>
<rect x="102.9445" y="427.5" width="1.111" height="5"/>
<rect x="169.9445" y="427.5" width="1.111" height="5"/>
<rect x="237.9445" y="427.5" width="1.111" height="5"/>
<rect x="305.9445" y="427.5" width="1.111" height="5"/>
<rect x="373.9445" y="427.5" width="1.111" height="5"/>
<rect x="441.9445" y="427.5" width="1.111" height="5"/>
<rect x="508.9445" y="427.5" width="1.111" height="5"/>
<rect x="75.5" y="86.9445" width="5" height="1.111"/>
<rect x="75.5" y="131.9445" width="5" height="1.111"/>
<rect x="75.5" y="176.9445" width="5" height="1.111"/>
<rect x="75.5" y="221.9445" width="5" height="1.111"/>
<rect x="75.5" y="266.9445" width="5" height="1.111"/>
<rect x="75.5" y="311.9445" width="5" height="1.111"/>
<rect x="75.5" y="356.9445" width="5" height="1.111"/>
<rect x="75.5" y="400.9445" width="5" height="1.111"/>
</g>
<g class="yt">
<text transform="translate(69.8 93) scale(1.03 1)">35</text>
<text transform="translate(69.8 138) scale(1.03 1)">30</text>
<text transform="translate(69.8 183) scale(1.03 1)">25</text>
<text transform="translate(69.8 227) scale(1.03 1)">20</text>
<text transform="translate(69.8 272) scale(1.03 1)">15</text>
<text transform="translate(69.8 317) scale(1.03 1)">10</text>
<text transform="translate(69.8 362) scale(1.03 1)">5</text>
<text transform="translate(69.8 407) scale(1.03 1)">0</text>
</g>
<g class="xt">
<text transform="translate(102.98 448) scale(.97 1)">0</text>
<text transform="translate(170.79 448) scale(.97 1)">5000</text>
<text transform="translate(238.6 448) scale(.97 1)">10000</text>
<text transform="translate(306.41 448) scale(.97 1)">15000</text>
<text transform="translate(374.22 448) scale(.97 1)">20000</text>
<text transform="translate(442.03 448) scale(.97 1)">25000</text>
<text transform="translate(509.84 448) scale(.97 1)">30000</text>
</g>
<g class="lg">
<rect x="430.5" y="219.5" width="139" height="46" rx="2.8" ry="2.8" fill="#fff" fill-opacity="0.8" stroke="#ccc" stroke-opacity="0.8" stroke-width="1.389"/>
<path d="M434.95 231H465.05" stroke="#1f77b4" stroke-width="2.083" fill="none"/>
<path d="M434.95 252H465.05" stroke="#ff7f0e" stroke-width="2.083" fill="none"/>
<text transform="translate(474 236) scale(1.05 1)">Transf target</text>
<text transform="translate(474 257) scale(1.05 1)">Ref target</text>
</g>
</svg>
</body>
</html>
